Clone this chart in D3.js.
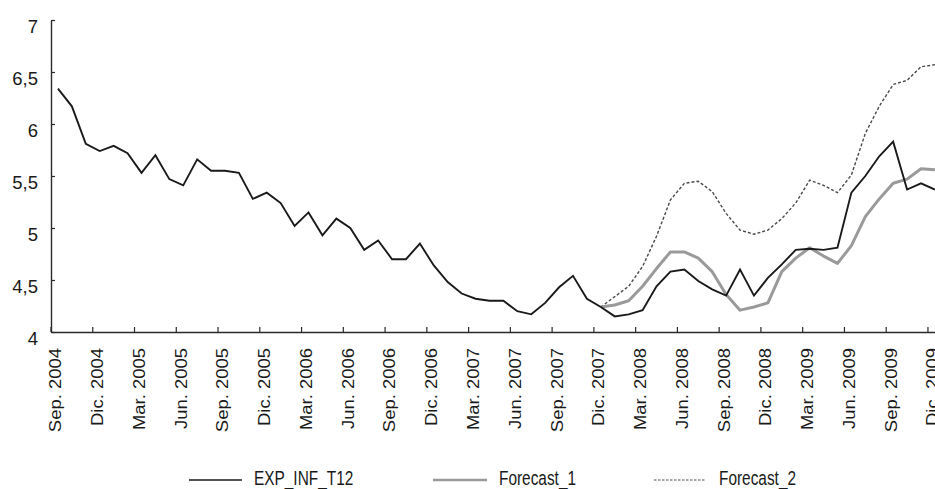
<!DOCTYPE html>
<html>
<head>
<meta charset="utf-8">
<script src="https://cdn.jsdelivr.net/npm/d3@7/dist/d3.min.js"></script>
<style>
  html, body { margin: 0; padding: 0; background: #fff; }
  svg { display: block; }
  text { font-family: "Liberation Sans", Arial, sans-serif; fill: #1a1a1a; }
</style>
</head>
<body>
<svg id="chart" width="935" height="489"></svg>
<script>
// ---------- DATA ----------
const categories = [
  "Sep. 2004","Oct. 2004","Nov. 2004","Dic. 2004",
  "Ene. 2005","Feb. 2005","Mar. 2005","Abr. 2005","May. 2005","Jun. 2005","Jul. 2005","Ago. 2005","Sep. 2005","Oct. 2005","Nov. 2005","Dic. 2005",
  "Ene. 2006","Feb. 2006","Mar. 2006","Abr. 2006","May. 2006","Jun. 2006","Jul. 2006","Ago. 2006","Sep. 2006","Oct. 2006","Nov. 2006","Dic. 2006",
  "Ene. 2007","Feb. 2007","Mar. 2007","Abr. 2007","May. 2007","Jun. 2007","Jul. 2007","Ago. 2007","Sep. 2007","Oct. 2007","Nov. 2007","Dic. 2007",
  "Ene. 2008","Feb. 2008","Mar. 2008","Abr. 2008","May. 2008","Jun. 2008","Jul. 2008","Ago. 2008","Sep. 2008","Oct. 2008","Nov. 2008","Dic. 2008",
  "Ene. 2009","Feb. 2009","Mar. 2009","Abr. 2009","May. 2009","Jun. 2009","Jul. 2009","Ago. 2009","Sep. 2009","Oct. 2009","Nov. 2009","Dic. 2009"
];

const tickLabels = [
  "Sep. 2004","Dic. 2004","Mar. 2005","Jun. 2005","Sep. 2005","Dic. 2005",
  "Mar. 2006","Jun. 2006","Sep. 2006","Dic. 2006","Mar. 2007","Jun. 2007",
  "Sep. 2007","Dic. 2007","Mar. 2008","Jun. 2008","Sep. 2008","Dic. 2008",
  "Mar. 2009","Jun. 2009","Sep. 2009","Dic. 2009"
];

const yTicks = [4, 4.5, 5, 5.5, 6, 6.5, 7];

const expInf = [
  6.34, 6.17, 5.81, 5.74,
  5.79, 5.72, 5.53, 5.70, 5.47, 5.41, 5.66, 5.55, 5.55, 5.53, 5.28, 5.34,
  5.24, 5.02, 5.15, 4.93, 5.09, 5.00, 4.79, 4.88, 4.70, 4.70, 4.85, 4.64,
  4.48, 4.37, 4.32, 4.30, 4.30, 4.20, 4.17, 4.28, 4.43, 4.54, 4.32, 4.24,
  4.15, 4.17, 4.21, 4.44, 4.58, 4.60, 4.49, 4.41, 4.35, 4.60, 4.35, 4.52,
  4.65, 4.79, 4.80, 4.79, 4.81, 5.34, 5.50, 5.69, 5.83, 5.37, 5.43, 5.37
];

// forecasts start at "Dic. 2007"
const forecastStart = "Dic. 2007";
const forecast1 = [
  4.24,
  4.26, 4.30, 4.44, 4.61, 4.77, 4.77, 4.71, 4.58, 4.36, 4.21, 4.24, 4.28,
  4.58, 4.71, 4.81, 4.73, 4.66, 4.83, 5.11, 5.28, 5.43, 5.47, 5.57, 5.56
];
const forecast2 = [
  4.24,
  4.34, 4.44, 4.63, 4.92, 5.27, 5.43, 5.45, 5.35, 5.14, 4.98, 4.94, 4.98,
  5.09, 5.24, 5.46, 5.41, 5.34, 5.51, 5.91, 6.17, 6.38, 6.42, 6.55, 6.57
];

const seriesNames = ["EXP_INF_T12", "Forecast_1", "Forecast_2"];

// ---------- LAYOUT ----------
const svg = d3.select("#chart");
const mLeft = 51, mTop = 20, mBottom = 332;
const catW = 13.92;

const x = d3.scaleBand()
  .domain(categories)
  .range([mLeft, mLeft + categories.length * catW])
  .padding(0);
const bw = x.bandwidth();
const cx = c => x(c) + bw / 2;

const y = d3.scaleLinear().domain([4, 7]).range([mBottom, mTop]);

const axisColor = "#2a2a2a";

// ---------- Y AXIS ----------
const yAxis = svg.append("g")
  .attr("transform", `translate(${mLeft},0)`)
  .call(d3.axisLeft(y)
    .tickValues(yTicks)
    .tickSize(-4)
    .tickSizeOuter(0)
    .tickPadding(13)
    .tickFormat(d => String(d).replace(".", ",")));
yAxis.select(".domain").attr("stroke", axisColor).attr("stroke-width", 1.4);
yAxis.selectAll(".tick line").attr("stroke", axisColor).attr("stroke-width", 1.2);
yAxis.selectAll(".tick text")
  .attr("font-size", 18.5)
  .attr("dy", "0.68em")
  .attr("fill", "#1a1a1a");

// ---------- X AXIS ----------
const lenScale = 1.12;
const xAxis = svg.append("g")
  .attr("transform", `translate(0,${mBottom})`)
  .call(d3.axisBottom(x)
    .tickValues(tickLabels)
    .tickSize(-5)
    .tickSizeOuter(0));
xAxis.select(".domain").attr("stroke", axisColor).attr("stroke-width", 1.4);
xAxis.selectAll(".tick line")
  .attr("x1", -bw / 2).attr("x2", -bw / 2)
  .attr("stroke", axisColor).attr("stroke-width", 1.2);
xAxis.selectAll(".tick text")
  .attr("transform", `rotate(-90) scale(${lenScale},1)`)
  .attr("text-anchor", "end")
  .attr("x", -16 / lenScale)
  .attr("y", -2.5)
  .attr("dy", "0.36em")
  .attr("font-size", 16.5)
  .attr("fill", "#1a1a1a");

// ---------- LINES ----------
const startIdx = categories.indexOf(forecastStart);
const line = d3.line()
  .x(d => cx(d.c))
  .y(d => y(d.v));

const dataExp = expInf.map((v, i) => ({ c: categories[i], v }));
const dataF1 = forecast1.map((v, i) => ({ c: categories[startIdx + i], v }));
const dataF2 = forecast2.map((v, i) => ({ c: categories[startIdx + i], v }));

const styles = [
  { stroke: "#1a1a1a", width: 1.9, dash: null },
  { stroke: "#9a9a9a", width: 3, dash: null },
  { stroke: "#4a4a4a", width: 1.4, dash: "3,2" }
];

svg.append("path").datum(dataF2)
  .attr("fill", "none").attr("stroke", styles[2].stroke)
  .attr("stroke-width", styles[2].width).attr("stroke-dasharray", styles[2].dash)
  .attr("d", line);
svg.append("path").datum(dataF1)
  .attr("fill", "none").attr("stroke", styles[1].stroke)
  .attr("stroke-width", styles[1].width).attr("stroke-linejoin", "round")
  .attr("d", line);
svg.append("path").datum(dataExp)
  .attr("fill", "none").attr("stroke", styles[0].stroke)
  .attr("stroke-width", styles[0].width)
  .attr("d", line);

// ---------- LEGEND ----------
const legendItems = [
  { name: seriesNames[0], x0: 189, x1: 242, tx: 254, st: styles[0], lw: 1.6 },
  { name: seriesNames[1], x0: 433, x1: 487, tx: 499, st: styles[1], lw: 2.5 },
  { name: seriesNames[2], x0: 654, x1: 705, tx: 719, st: styles[2], lw: 1.2 }
];
const ly = 480;
const textBase = 484.5;
const condense = 0.79;
const lg = svg.append("g");
legendItems.forEach(it => {
  lg.append("line")
    .attr("x1", it.x0).attr("x2", it.x1).attr("y1", ly).attr("y2", ly)
    .attr("stroke", it.st.stroke)
    .attr("stroke-width", it.lw)
    .attr("stroke-dasharray", it.st.dash ? "2.5,1.5" : null);
  lg.append("text")
    .attr("transform", `translate(${it.tx},${textBase}) scale(${condense},1)`)
    .attr("font-size", 19.5)
    .text(it.name);
});
</script>
</body>
</html>
